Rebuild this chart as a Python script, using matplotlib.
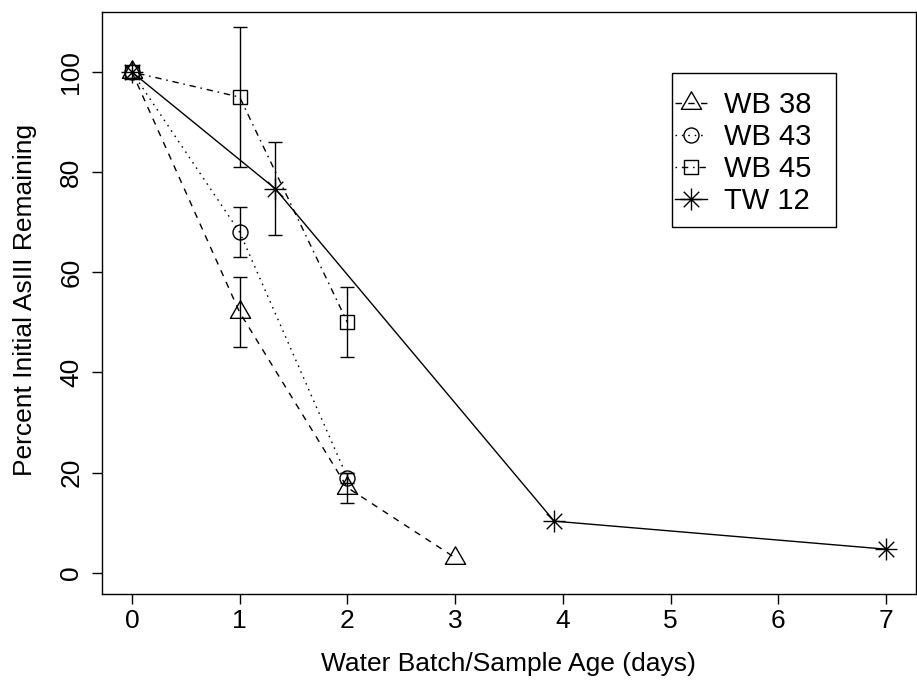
import numpy as np
import matplotlib
matplotlib.use("Agg")
import matplotlib.pyplot as plt
from matplotlib.path import Path
from matplotlib.patches import Rectangle

plt.rcParams['font.family'] = ['Liberation Sans', 'DejaVu Sans']

# ---- data ----
days_wb38 = [0, 1, 2, 3]
wb38 = [100, 52, 17, 3]
wb38_err = [0, 7, 3, 0]

days_wb43 = [0, 1, 2]
wb43 = [100, 68, 19]
wb43_err = [0, 5, 1]

days_wb45 = [0, 1, 2]
wb45 = [100, 95, 50]
wb45_err = [0, 14, 7]

days_tw12 = [0, 1.33, 3.92, 7.0]
tw12 = [100, 76.7, 10.3, 4.7]
tw12_err = [0, 9.3, 0, 0]

labels = ["WB 38", "WB 43", "WB 45", "TW 12"]
x_ticks = [0, 1, 2, 3, 4, 5, 6, 7]
y_ticks = [0, 20, 40, 60, 80, 100]

# ---- markers (R pch 2, 1, 0, 8) ----
tri = Path([(0, 1.555), (1.347, -0.778), (-1.347, -0.778), (0, 1.555)], closed=True)
ast_v = [(-1.414, 0), (1.414, 0), (0, -1.414), (0, 1.414),
         (-1, -1), (1, 1), (-1, 1), (1, -1)]
ast_c = [Path.MOVETO, Path.LINETO] * 4
ast = Path(ast_v, ast_c)

fig = plt.figure(figsize=(9.17, 6.84), dpi=100)
ax = fig.add_axes([0.1109, 0.1316, 0.888, 0.8509])

u = 1.15
series = [
    (days_wb38, wb38, wb38_err, tri, 16.8, (0, (4 * u, 4 * u))),
    (days_wb43, wb43, wb43_err, 'o', 10.8, (0, (1 * u, 3 * u))),
    (days_wb45, wb45, wb45_err, 's', 9.6, (0, (1 * u, 3 * u, 4 * u, 3 * u))),
    (days_tw12, tw12, tw12_err, ast, 15.8, '-'),
]

for (x, y, e, m, ms, ls), lab in zip(series, labels):
    ax.plot(x, y, color='black', lw=1.0, linestyle=ls, marker=m, ms=ms,
            mfc='none', mec='black', mew=1.0, label=lab)
    x_a, y_a, e_a = np.array(x), np.array(y), np.array(e)
    k = e_a > 0
    ax.errorbar(x_a[k], y_a[k], yerr=e_a[k], fmt='none', ecolor='black',
                elinewidth=1.0, capsize=4.7, capthick=1.0)

ax.set_xlim(-0.281, 7.279)
ax.set_ylim(-4.25, 112.0)
ax.set_xticks(x_ticks)
ax.set_yticks(y_ticks)
ax.tick_params(axis='both', direction='out', length=7.3, width=1.0,
               labelsize=19, color='black')
ax.tick_params(axis='x', pad=3.6)
ax.tick_params(axis='y', pad=6, labelrotation=90)
for lbl in ax.get_yticklabels():
    lbl.set_va('center')
for s in ax.spines.values():
    s.set_linewidth(1.0)
    s.set_color('black')

ax.set_xlabel("Water Batch/Sample Age (days)", fontsize=19)
ax.set_ylabel("Percent Initial AsIII Remaining", fontsize=19)
ax.xaxis.set_label_coords(0.5, -0.0997)
ax.yaxis.set_label_coords(-0.0795, 0.505)

leg = ax.legend(loc='upper left', bbox_to_anchor=(0.704, 0.8634),
                bbox_transform=ax.transAxes, frameon=False, borderpad=0,
                borderaxespad=0, fontsize=21, handlelength=1.095,
                handletextpad=0.58, labelspacing=0.13, numpoints=1)
ax.add_patch(Rectangle((0.7001, 0.6311), 0.2017, 0.2636, transform=ax.transAxes,
                       fill=False, edgecolor='black', lw=1.0, clip_on=False))

fig.savefig("out.png", dpi=100)
